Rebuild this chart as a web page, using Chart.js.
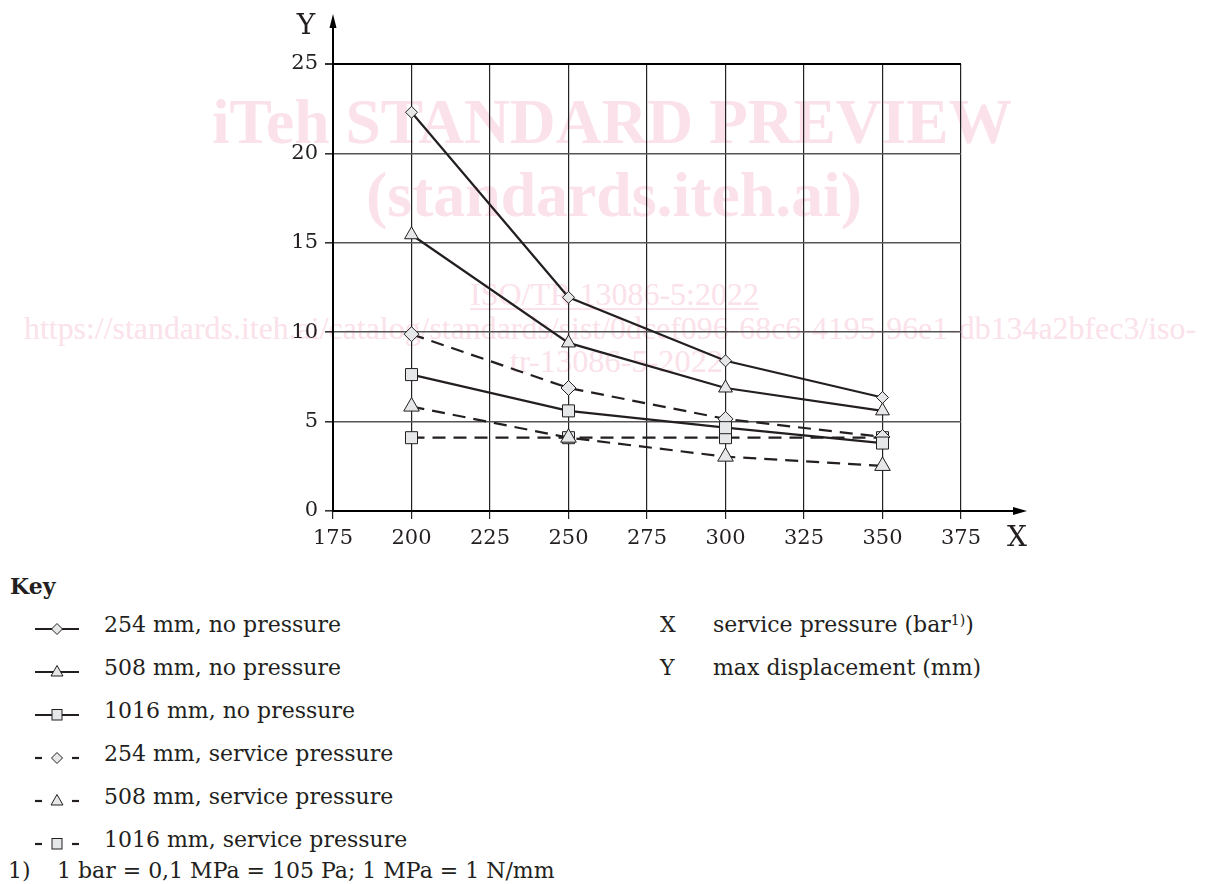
<!DOCTYPE html>
<html>
<head>
<meta charset="utf-8">
<script src="https://cdn.jsdelivr.net/npm/chart.js@4.4.1/dist/chart.umd.min.js"></script>
<style>
  html, body { margin: 0; padding: 0; background: #fff; }
  body { width: 1207px; height: 884px; position: relative; overflow: hidden; font-family: 'DejaVu Serif', serif; color: #231f20; }
  #marca { position: absolute; left: 0; top: 0; z-index: 0; }
  #marca text { font-family: 'Liberation Serif', serif; }
  #caja { position: absolute; left: 0; top: 0; width: 1207px; height: 560px; z-index: 1; }
  .txt { position: absolute; font-size: 22px; line-height: 26px; white-space: nowrap; }
  .sim { position: absolute; z-index: 2; }
  sup { font-size: 14px; line-height: 0; vertical-align: 7px; }
</style>
</head>
<body>

<!-- marca de agua rosa, por debajo del grafico -->
<svg id="marca" width="1207" height="884" xmlns="http://www.w3.org/2000/svg">
  <g fill="#fbe1ea">
    <text x="212" y="143" font-size="64" font-weight="bold" textLength="800" lengthAdjust="spacingAndGlyphs">iTeh STANDARD PREVIEW</text>
    <text x="366" y="216" font-size="64" font-weight="bold" textLength="496" lengthAdjust="spacingAndGlyphs">(standards.iteh.ai)</text>
    <text x="470" y="305" font-size="31" textLength="289" lengthAdjust="spacingAndGlyphs">ISO/TR 13086-5:2022</text>
    <rect x="470" y="308" width="289" height="2"></rect>
    <text x="24" y="339" font-size="31" textLength="1172" lengthAdjust="spacingAndGlyphs">https://standards.iteh.ai/catalog/standards/sist/0dcef096-68c6-4195-96e1-db134a2bfec3/iso-</text>
    <text x="510" y="372" font-size="31" textLength="213" lengthAdjust="spacingAndGlyphs">tr-13086-5-2022</text>
  </g>
</svg>

<div id="caja"><canvas id="grafico" width="1207" height="560"></canvas></div>

<div id="clave"></div>

<script>
// DATOS
const presiones = [200, 250, 300, 350];
const ticksX = [175, 200, 225, 250, 275, 300, 325, 350, 375];
const ticksY = [0, 5, 10, 15, 20, 25];

const d254SinPresion  = [22.3, 11.95, 8.4, 6.35];
const d508SinPresion  = [15.45, 9.4, 6.88, 5.6];
const d1016SinPresion = [7.63, 5.6, 4.66, 3.8];
const d254Servicio    = [9.89, 6.88, 5.15, 4.14];
const d508Servicio    = [5.84, 4.1, 3.04, 2.52];
const d1016Servicio   = [4.1, 4.1, 4.1, 4.1];

const nombres = [
  '254 mm, no pressure', '508 mm, no pressure', '1016 mm, no pressure',
  '254 mm, service pressure', '508 mm, service pressure', '1016 mm, service pressure'
];

const TINTA = '#231f20';
const RELLENO = '#e6e7e8';
const FUENTE = "'DejaVu Serif', serif";

function serie(nombre, valores, forma, radio, discontinua) {
  return {
    label: nombre,
    data: presiones.map((p, i) => ({ x: p, y: valores[i] })),
    borderColor: TINTA,
    borderWidth: 2.2,
    borderDash: discontinua ? [13, 8] : [],
    pointStyle: forma,
    pointRadius: radio,
    pointBackgroundColor: RELLENO,
    pointBorderColor: TINTA,
    pointBorderWidth: 1,
    tension: 0,
    fill: false
  };
}

// flechas de ejes y letras X / Y
const flechasEjes = {
  id: 'flechasEjes',
  afterDraw(chart) {
    const { ctx, chartArea: a } = chart;
    ctx.save();
    ctx.strokeStyle = '#000'; ctx.fillStyle = '#000'; ctx.lineWidth = 2;
    // eje Y hacia arriba
    ctx.beginPath(); ctx.moveTo(a.left, a.top); ctx.lineTo(a.left, a.top - 36); ctx.stroke();
    ctx.beginPath(); ctx.moveTo(a.left, a.top - 50); ctx.lineTo(a.left - 3.5, a.top - 36); ctx.lineTo(a.left + 3.5, a.top - 36); ctx.closePath(); ctx.fill();
    // eje X hacia la derecha
    ctx.beginPath(); ctx.moveTo(a.right, a.bottom); ctx.lineTo(a.right + 54, a.bottom); ctx.stroke();
    ctx.beginPath(); ctx.moveTo(a.right + 66, a.bottom); ctx.lineTo(a.right + 52, a.bottom - 4); ctx.lineTo(a.right + 52, a.bottom + 4); ctx.closePath(); ctx.fill();
    ctx.font = "28px " + FUENTE;
    ctx.fillStyle = TINTA;
    ctx.textAlign = 'center'; ctx.textBaseline = 'middle';
    ctx.fillText('Y', a.left - 27, a.top - 37);
    ctx.fillText('X', a.right + 56, a.bottom + 28);
    ctx.restore();
  }
};

new Chart(document.getElementById('grafico'), {
  type: 'line',
  data: {
    datasets: [
      serie(nombres[0], d254SinPresion, 'rectRot', 6, false),
      serie(nombres[1], d508SinPresion, 'triangle', 8, false),
      serie(nombres[2], d1016SinPresion, 'rect', 8.5, false),
      serie(nombres[3], d254Servicio, 'rectRot', 7.5, true),
      serie(nombres[4], d508Servicio, 'triangle', 9, true),
      serie(nombres[5], d1016Servicio, 'rect', 8.5, true)
    ]
  },
  options: {
    responsive: false,
    animation: false,
    layout: { padding: { left: 273, right: 246, top: 64, bottom: 9 } },
    plugins: { legend: { display: false }, tooltip: { enabled: false } },
    scales: {
      x: {
        type: 'linear', min: 175, max: 375,
        afterBuildTicks: s => { s.ticks = ticksX.map(v => ({ value: v })); },
        afterFit: s => { s.height = 40; },
        grid: { color: '#222', lineWidth: 1.2, tickLength: 8, tickColor: '#222' },
        border: { color: '#000', width: 2 },
        ticks: { color: TINTA, font: { family: FUENTE, size: 21 }, padding: 7, maxRotation: 0 }
      },
      y: {
        min: 0, max: 25,
        afterBuildTicks: s => { s.ticks = ticksY.map(v => ({ value: v })); },
        afterFit: s => { s.width = 60; },
        grid: {
          color: c => c.tick && c.tick.value === 25 ? '#000' : '#555',
          lineWidth: c => c.tick && c.tick.value === 25 ? 2 : 1.6,
          tickLength: 8, tickColor: '#333'
        },
        border: { color: '#000', width: 2 },
        ticks: { color: TINTA, font: { family: FUENTE, size: 21 }, padding: 7 }
      }
    }
  },
  plugins: [flechasEjes]
});

// CLAVE (leyenda) en HTML con simbolos en SVG
function simbolo(forma, discontinua) {
  let linea = discontinua
    ? '<line x1="0" y1="10" x2="7" y2="10"/><line x1="37" y1="10" x2="44" y2="10"/>'
    : '<line x1="0" y1="10" x2="44" y2="10"/>';
  let marca = '';
  if (forma === 'rombo') marca = '<polygon points="22,4.5 27.5,10 22,15.5 16.5,10"/>';
  if (forma === 'triangulo') marca = '<polygon points="22,3.5 28,14 16,14"/>';
  if (forma === 'cuadrado') marca = '<rect x="17" y="4.5" width="10" height="10.5"/>';
  return '<svg width="44" height="20" xmlns="http://www.w3.org/2000/svg">' +
    '<g stroke="' + TINTA + '" stroke-width="2.2">' + linea + '</g>' +
    '<g fill="' + RELLENO + '" stroke="' + TINTA + '" stroke-width="1">' + marca + '</g></svg>';
}

const formas = ['rombo', 'triangulo', 'cuadrado', 'rombo', 'triangulo', 'cuadrado'];
let html = '<div class="txt" style="left:10px; top:573px; font-weight:bold;">Key</div>';
nombres.forEach((n, i) => {
  const cy = 625 + i * 43;
  html += `<div class="sim" style="left:35px; top:${cy - 6}px;">${simbolo(formas[i], i >= 3)}</div>`;
  html += `<div class="txt" style="left:104px; top:${cy - 13}px;">${n}</div>`;
});
html += '<div class="txt" style="left:660px; top:612px;">X</div>';
html += '<div class="txt" style="left:713px; top:612px;">service pressure (bar<sup>1)</sup>)</div>';
html += '<div class="txt" style="left:660px; top:655px;">Y</div>';
html += '<div class="txt" style="left:713px; top:655px;">max displacement (mm)</div>';
html += '<div class="txt" style="left:8px; top:858px;">1)</div>';
html += '<div class="txt" style="left:57px; top:858px;">1 bar = 0,1 MPa = 105 Pa; 1 MPa = 1 N/mm</div>';
document.getElementById('clave').innerHTML = html;
</script>
</body>
</html>
